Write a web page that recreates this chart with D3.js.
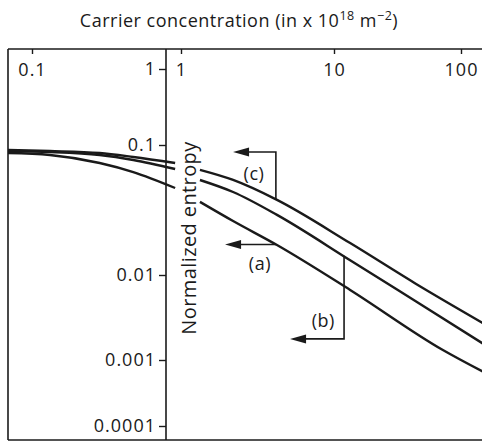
<!DOCTYPE html>
<html>
<head>
<meta charset="utf-8">
<script src="https://cdn.jsdelivr.net/npm/d3@7"></script>
<style>
  html, body { margin: 0; padding: 0; background: #fff; }
  svg text { font-family: "Open Sans", "Noto Sans", sans-serif; fill: #1a1a1a; }
</style>
</head>
<body>
<svg id="chart" width="482" height="442"></svg>
<script>
// Carrier concentration (x 10^18 m^-2) and normalized entropy, three cases.
const leftConc = [0.066, 0.136, 0.32, 0.57, 1.17];
const entropyLeftA = [0.0868, 0.0838, 0.0727, 0.0619, 0.0467];
const entropyLeftB = [0.0899, 0.0884, 0.0838, 0.0767, 0.0654];
const entropyLeftC = [0.0915, 0.0899, 0.0868, 0.0809, 0.0727];

const rightConcA = [1.33, 2.19, 4.24, 13.4, 72, 150];
const entropyRightA = [0.0365, 0.026, 0.017, 0.00667, 0.00131, 0.00066];
const rightConcB = [1.33, 2.19, 4.24, 13.4, 44, 150];
const entropyRightB = [0.0538, 0.0435, 0.029, 0.013, 0.0049, 0.00155];
const rightConcC = [1.33, 2.19, 4.24, 13.4, 44, 150];
const entropyRightC = [0.0643, 0.0538, 0.0378, 0.0176, 0.0079, 0.0027];

const leftTicks = [0.1];
const rightTicks = [1, 10, 100];
const yTicks = [0.0001, 0.001, 0.01, 0.1, 1];
const yTickLabels = ["0.0001", "0.001", "0.01", "0.1", "1"];

// Case markers: arrow routes (data coords) and label anchors
const markC = { label: "(c)", path: [[4.17, null, "c"], [4.17, 0.0884], [2.19, 0.0884]], text: [3.0, 0.061] };
const markA = { label: "(a)", path: [[4.17, null, "a"], [1.94, null, "a"]], text: [3.28, 0.0124] };
const markB = { label: "(b)", path: [[12.0, null, "b"], [12.0, 0.00177], [5.16, 0.00177]], text: [8.5, 0.00296] };

const svg = d3.select("#chart");
const plotTop = 49, plotBottom = 440, leftEdge = 8, divider = 166, rightEdge = 482;

const xLeft = d3.scaleLog().domain([0.1, 1]).range([32, divider]);
const xRight = d3.scaleLog().domain([1, 10, 100]).range([181, 334, 461]);
const y = d3.scaleLog().domain([1e-4, 1e-3, 1e-2, 1e-1, 1]).range([426, 360, 275, 145, 69]);

const ink = "#1a1a1a";

// Title
const title = svg.append("text")
  .attr("x", 239).attr("y", 27)
  .attr("text-anchor", "middle")
  .attr("font-size", 18)
  .attr("letter-spacing", 0.5);
title.append("tspan").text("Carrier concentration (in x 10");
title.append("tspan").attr("font-size", 12.5).attr("dy", -7).text("18");
title.append("tspan").attr("dy", 7).text(" m");
title.append("tspan").attr("font-size", 12.5).attr("dy", -7).text("\u22122");
title.append("tspan").attr("dy", 7).text(")");

// Frame
const frame = svg.append("g").attr("stroke", ink).attr("stroke-width", 1.6).attr("fill", "none");
frame.append("line").attr("x1", leftEdge).attr("x2", rightEdge + 2).attr("y1", plotTop).attr("y2", plotTop);
frame.append("line").attr("x1", leftEdge).attr("x2", rightEdge + 2).attr("y1", plotBottom).attr("y2", plotBottom);
frame.append("line").attr("x1", leftEdge).attr("x2", leftEdge).attr("y1", plotTop).attr("y2", plotBottom);
frame.append("line").attr("x1", divider).attr("x2", divider).attr("y1", plotTop).attr("y2", plotBottom);

// Axis styling shared by all three axes
function styleAxis(g) {
  g.select(".domain").remove();
  g.selectAll(".tick line").attr("stroke", ink).attr("stroke-width", 1.4);
  g.selectAll(".tick text").attr("fill", ink).attr("font-size", 18)
    .attr("letter-spacing", 1)
    .attr("font-family", "'Open Sans', 'Noto Sans', sans-serif");
}
// X axes along the top edge, ticks pointing inward
svg.append("g").attr("transform", `translate(0,${plotTop})`)
  .call(d3.axisBottom(xLeft).tickValues(leftTicks).tickFormat(d3.format("")).tickSize(5).tickPadding(9))
  .call(styleAxis);
svg.append("g").attr("transform", `translate(0,${plotTop})`)
  .call(d3.axisBottom(xRight).tickValues(rightTicks).tickFormat(d3.format("")).tickSize(5).tickPadding(9))
  .call(styleAxis);

// Shared y axis on the divider
svg.append("g").attr("transform", `translate(${divider},0)`)
  .call(d3.axisLeft(y).tickValues(yTicks).tickFormat((d, i) => yTickLabels[i]).tickSize(7).tickPadding(3))
  .call(styleAxis);

// Y label
svg.append("text")
  .attr("transform", `translate(196,238) rotate(-90)`)
  .attr("text-anchor", "middle")
  .attr("font-size", 20)
  .attr("letter-spacing", 0.4)
  .text("Normalized entropy");

// Curves
const clip = svg.append("clipPath").attr("id", "plotClip");
clip.append("rect").attr("x", leftEdge).attr("y", plotTop).attr("width", rightEdge - leftEdge).attr("height", plotBottom - plotTop);

const curves = svg.append("g").attr("clip-path", "url(#plotClip)")
  .attr("fill", "none").attr("stroke", ink).attr("stroke-width", 2.4);

const lineLeft = d3.line().x(d => xLeft(d[0])).y(d => y(d[1])).curve(d3.curveMonotoneX);
const lineRight = d3.line().x(d => xRight(d[0])).y(d => y(d[1])).curve(d3.curveMonotoneX);

[entropyLeftA, entropyLeftB, entropyLeftC].forEach(vals => {
  curves.append("path").attr("d", lineLeft(leftConc.map((c, i) => [c, vals[i]])));
});
const rightSeries = {
  a: rightConcA.map((c, i) => [c, entropyRightA[i]]),
  b: rightConcB.map((c, i) => [c, entropyRightB[i]]),
  c: rightConcC.map((c, i) => [c, entropyRightC[i]])
};
Object.values(rightSeries).forEach(pts => {
  curves.append("path").attr("d", lineRight(pts));
});

// Value of a right-panel curve at a given concentration (log-log interpolation)
function curveAt(key, c) {
  const pts = rightSeries[key];
  for (let i = 0; i < pts.length - 1; i++) {
    const [x0, y0] = pts[i], [x1, y1] = pts[i + 1];
    if (c >= x0 && c <= x1) {
      const t = (Math.log(c) - Math.log(x0)) / (Math.log(x1) - Math.log(x0));
      return Math.exp(Math.log(y0) + t * (Math.log(y1) - Math.log(y0)));
    }
  }
  return pts[pts.length - 1][1];
}

// Case markers with arrows
const marks = svg.append("g");
[markC, markA, markB].forEach(m => {
  const pts = m.path.map(p => {
    const v = p[1] === null ? curveAt(p[2], p[0]) : p[1];
    return [xRight(p[0]), y(v)];
  });
  // a two-point route stays level with its starting point
  if (pts.length === 2) pts[1][1] = pts[0][1];
  const tip = pts[pts.length - 1];
  const prev = pts[pts.length - 2];
  const dir = Math.sign(tip[0] - prev[0]) || -1;
  const headLen = 16, headHalf = 4.5;
  const shaft = pts.slice(0, -1).concat([[tip[0] - dir * headLen + dir * 1, tip[1]]]);
  marks.append("path")
    .attr("d", d3.line()(shaft))
    .attr("fill", "none").attr("stroke", ink).attr("stroke-width", 1.6);
  marks.append("path")
    .attr("d", `M${tip[0]},${tip[1]} L${tip[0] - dir * headLen},${tip[1] - headHalf} L${tip[0] - dir * headLen},${tip[1] + headHalf} Z`)
    .attr("fill", ink);
  marks.append("text")
    .attr("x", xRight(m.text[0])).attr("y", y(m.text[1]))
    .attr("text-anchor", "middle").attr("dominant-baseline", "central")
    .attr("font-size", 18)
    .attr("letter-spacing", 0.5)
    .text(m.label);
});
</script>
</body>
</html>
